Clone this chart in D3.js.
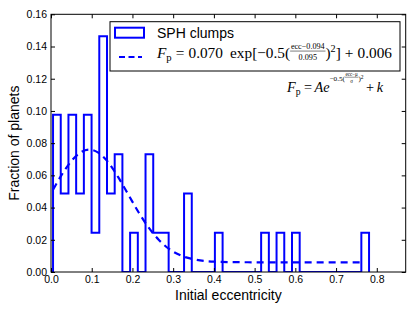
<!DOCTYPE html>
<html>
<head>
<meta charset="utf-8">
<script src="https://cdn.jsdelivr.net/npm/d3@7"></script>
<style>
body { margin: 0; background: #fff; }
text { font-family: "Liberation Sans", Arial, sans-serif; fill: #000; }
text.math { font-family: "Liberation Serif", "DejaVu Serif", serif; }
</style>
</head>
<body>
<div id="chart"></div>
<script>
// histogram: 41 planets, 41 bins between min and max ecc
const counts = [4,2,4,2,4,1,6,2,3,0,1,0,3,1,1,0,0,2,0,0,0,1,0,0,0,0,0,1,0,1,0,1,0,0,0,0,0,0,0,0,1];
const nPlanets = 41;
const eccMin = 0.005, eccMax = 0.781;

// gaussian fit, sampled from the dashed curve
const fitEcc  = [0.005, 0.025, 0.05, 0.075, 0.094, 0.115, 0.14, 0.165, 0.19, 0.215, 0.24, 0.265, 0.29, 0.32, 0.35, 0.40, 0.45, 0.55, 0.769];
const fitFrac = [0.0511, 0.0598, 0.0689, 0.0746, 0.0760, 0.0743, 0.0683, 0.0589, 0.0480, 0.0371, 0.0275, 0.0199, 0.0143, 0.0101, 0.0079, 0.0064, 0.0061, 0.0060, 0.0060];

const xTicks = [0, 0.1, 0.2, 0.3, 0.4, 0.5, 0.6, 0.7, 0.8];
const yTicks = [0, 0.02, 0.04, 0.06, 0.08, 0.10, 0.12, 0.14, 0.16];

const svgWidth = 415, svgHeight = 312;
const plot = { left: 51, right: 405.7, top: 14.3, bottom: 272 };

const svg = d3.select("#chart").append("svg")
    .attr("width", svgWidth)
    .attr("height", svgHeight);

const x = d3.scaleLinear().domain([0, 0.871]).range([plot.left, plot.right]);
const y = d3.scaleLinear().domain([0, 0.16]).range([plot.bottom, plot.top]);

svg.append("clipPath").attr("id", "clip")
    .append("rect")
    .attr("x", plot.left).attr("y", plot.top)
    .attr("width", plot.right - plot.left).attr("height", plot.bottom - plot.top);

// step outline of the histogram
const nb = counts.length;
const binW = (eccMax - eccMin) / nb;
const stepPts = [[eccMin, 0]];
counts.forEach((c, i) => {
    stepPts.push([eccMin + i * binW, c / nPlanets]);
    stepPts.push([eccMin + (i + 1) * binW, c / nPlanets]);
});
stepPts.push([eccMax, 0]);

svg.append("path")
    .datum(stepPts)
    .attr("clip-path", "url(#clip)")
    .attr("fill", "none")
    .attr("stroke", "#0000ff")
    .attr("stroke-width", 2)
    .attr("d", d3.line().x(d => x(d[0])).y(d => y(d[1])));

// fit line
svg.append("path")
    .datum(d3.zip(fitEcc, fitFrac))
    .attr("clip-path", "url(#clip)")
    .attr("fill", "none")
    .attr("stroke", "#0000ff")
    .attr("stroke-width", 2.2)
    .attr("stroke-dasharray", "7,5")
    .attr("d", d3.line().x(d => x(d[0])).y(d => y(d[1])).curve(d3.curveMonotoneX));

// axes, ticks pointing inward on all sides
const fmt = d3.format(".1f");
svg.append("g")
    .attr("transform", `translate(0,${plot.bottom})`)
    .call(d3.axisBottom(x).tickValues(xTicks).tickFormat(fmt).tickSizeInner(-4).tickSizeOuter(0).tickPadding(4))
    .call(g => g.select(".domain").remove());
svg.append("g")
    .attr("transform", `translate(0,${plot.top})`)
    .call(d3.axisTop(x).tickValues(xTicks).tickFormat("").tickSizeInner(-4).tickSizeOuter(0))
    .call(g => g.select(".domain").remove());
svg.append("g")
    .attr("transform", `translate(${plot.left},0)`)
    .call(d3.axisLeft(y).tickValues(yTicks).tickFormat(d3.format(".2f")).tickSizeInner(-4).tickSizeOuter(0).tickPadding(4))
    .call(g => g.select(".domain").remove());
svg.append("g")
    .attr("transform", `translate(${plot.right},0)`)
    .call(d3.axisRight(y).tickValues(yTicks).tickFormat("").tickSizeInner(-4).tickSizeOuter(0))
    .call(g => g.select(".domain").remove());

svg.selectAll(".tick text")
    .style("font-family", '"Liberation Sans", Arial, sans-serif')
    .style("font-size", "10.5px")
    .attr("fill", "#000");
svg.selectAll(".tick line").attr("stroke", "#000");

svg.append("rect")
    .attr("x", plot.left).attr("y", plot.top)
    .attr("width", plot.right - plot.left).attr("height", plot.bottom - plot.top)
    .attr("fill", "none").attr("stroke", "#000").attr("stroke-width", 1);

// axis labels
svg.append("text")
    .text("Initial eccentricity")
    .attr("x", (plot.left + plot.right) / 2)
    .attr("y", 300)
    .attr("text-anchor", "middle")
    .style("font-size", "14px");
svg.append("text")
    .text("Fraction of planets")
    .attr("transform", `translate(19,${(plot.top + plot.bottom) / 2}) rotate(-90)`)
    .attr("text-anchor", "middle")
    .style("font-size", "14px");

// little typesetter for the math bits
function mathText(g, x0, y0, parts) {
    let cx = x0;
    parts.forEach(p => {
        if (p.gap) { cx += p.gap; return; }
        if (p.frac) {
            const fy = y0 + (p.dy || 0);
            const num = g.append("text").attr("class", "math")
                .attr("y", fy - p.size * 0.55).style("font-size", p.size + "px").text(p.num);
            const den = g.append("text").attr("class", "math")
                .attr("y", fy + p.size * 0.75).style("font-size", p.size + "px").text(p.den);
            const w = Math.max(num.node().getComputedTextLength(), den.node().getComputedTextLength()) + 1.5;
            num.attr("x", cx + w / 2).attr("text-anchor", "middle");
            den.attr("x", cx + w / 2).attr("text-anchor", "middle");
            g.append("line")
                .attr("x1", cx).attr("x2", cx + w)
                .attr("y1", fy - p.size * 0.35).attr("y2", fy - p.size * 0.35)
                .attr("stroke", "#000").attr("stroke-width", 0.5);
            cx += w;
        } else {
            const t = g.append("text").attr("class", "math")
                .attr("x", cx).attr("y", y0 + (p.dy || 0))
                .style("font-size", p.size + "px")
                .style("font-style", p.it ? "italic" : "normal")
                .text(p.t);
            cx += t.node().getComputedTextLength();
        }
    });
    return cx - x0;
}

function placeMath(x0, y0, targetW, parts) {
    const g = svg.append("g");
    const inner = g.append("g");
    const w = mathText(inner, 0, 0, parts);
    const k = targetW / w;
    g.attr("transform", `translate(${x0},${y0}) scale(${k})`);
}

// legend
svg.append("rect")
    .attr("x", 110).attr("y", 21.7).attr("width", 290).attr("height", 49.3)
    .attr("fill", "#fff").attr("stroke", "#000").attr("stroke-width", 1);
svg.append("rect")
    .attr("x", 115).attr("y", 27.7).attr("width", 29).attr("height", 10)
    .attr("fill", "none").attr("stroke", "#0000ff").attr("stroke-width", 2);
svg.append("text")
    .text("SPH clumps")
    .attr("x", 157).attr("y", 37.5)
    .style("font-size", "14px");
svg.append("line")
    .attr("x1", 119).attr("x2", 142).attr("y1", 57).attr("y2", 57)
    .attr("stroke", "#0000ff").attr("stroke-width", 2.2)
    .attr("stroke-dasharray", "6,3.5");

placeMath(157, 58, 235, [
    { t: "F", it: true, size: 15 },
    { t: "p", size: 10.5, dy: 3 },
    { gap: 4 }, { t: "=", size: 15 }, { gap: 4 },
    { t: "0.070", size: 15 }, { gap: 7 },
    { t: "exp[\u22120.5(", size: 15 },
    { frac: true, num: "ecc\u22120.094", den: "0.095", size: 8, dy: -4 },
    { t: ")", size: 15 },
    { t: "2", size: 10, dy: -6 },
    { t: "]", size: 15 }, { gap: 4 }, { t: "+", size: 15 }, { gap: 4 },
    { t: "0.006", size: 15 }
]);

// formula annotation
placeMath(287, 92, 96, [
    { t: "F", it: true, size: 17 },
    { t: "p", size: 11.5, dy: 3 },
    { gap: 4 }, { t: "=", size: 17 }, { gap: 3 },
    { t: "Ae", it: true, size: 17 },
    { t: "\u22120.5(", size: 8.5, dy: -13 },
    { frac: true, num: "ecc\u2212\u03bc", den: "\u03c3", size: 6, dy: -15.5 },
    { t: ")", size: 8.5, dy: -13 },
    { t: "2", size: 6.5, dy: -16 },
    { gap: 3 }, { t: "+", size: 17 }, { gap: 3 },
    { t: "k", it: true, size: 17 }
]);
</script>
</body>
</html>
